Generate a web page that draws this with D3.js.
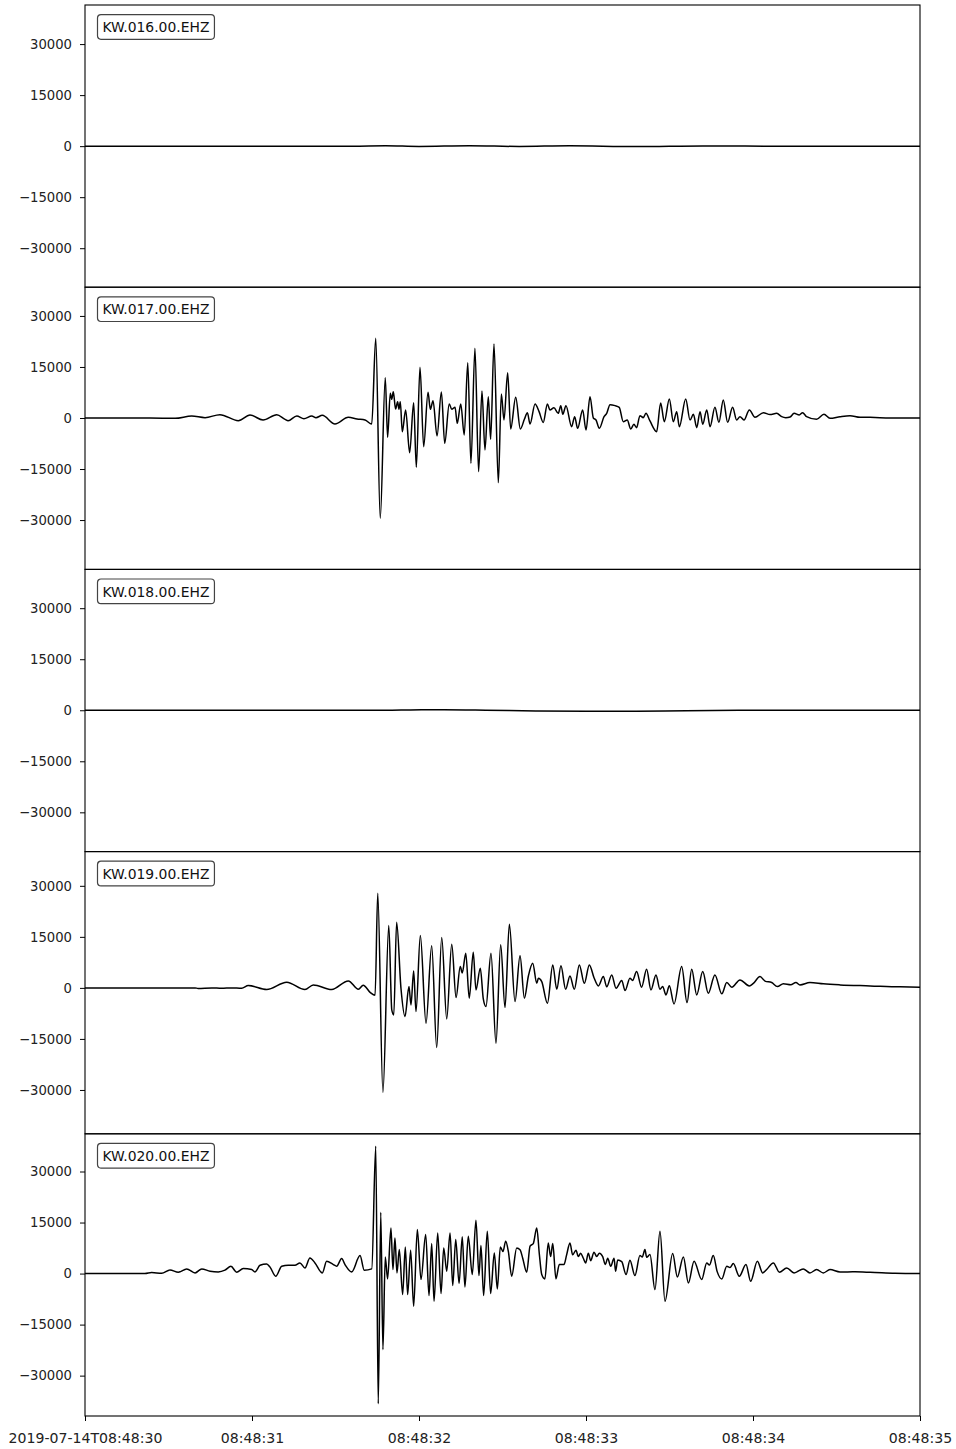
<!DOCTYPE html>
<html>
<head>
<meta charset="utf-8">
<script src="https://cdn.jsdelivr.net/npm/d3@7"></script>
<style>
  html, body { margin: 0; padding: 0; background: #fff; }
  svg { display: block; font-family: "DejaVu Sans", sans-serif; }
</style>
</head>
<body>
<svg id="chart" width="956" height="1449"></svg>
<script>
// Station channel ids, one panel each (top to bottom)
const stations = ["KW.016.00.EHZ", "KW.017.00.EHZ", "KW.018.00.EHZ", "KW.019.00.EHZ", "KW.020.00.EHZ"];
const startTime = "2019-07-14T08:48:30Z";
const durationSec = 5;
const xTickSeconds = [0, 1, 2, 3, 4, 5];
const yTickValues = [-30000, -15000, 0, 15000, 30000];

// Waveforms as [seconds after start, counts] at the turning points of each trace
const kw016 = [[0,0],[1.6,0],[1.8,120],[2.0,-80],[2.3,150],[2.6,-100],[2.9,120],[3.3,-120],[3.7,80],[4.2,-40],[5,0]];

const kw017 = [[0,0],[0.389,0],[0.540,-100],[0.639,590],[0.719,100],[0.808,980],[0.918,-790],[0.988,880],[1.066,-590],[1.148,980],[1.198,-390],[1.216,-800],[1.268,590],[1.311,-200],[1.358,590],[1.383,100],[1.421,780],[1.497,-1760],[1.577,200],[1.629,-300],[1.677,-600],[1.717,-1760],[1.741,23440],[1.768,-29500],[1.798,11850],[1.812,-5680],[1.828,7260],[1.837,5500],[1.846,7740],[1.860,2650],[1.872,4800],[1.880,2550],[1.888,4800],[1.900,-4020],[1.920,2350],[1.944,-10200],[1.968,4510],[1.984,-14500],[2.006,14900],[2.028,-8430],[2.054,7550],[2.068,2550],[2.084,5100],[2.108,-5290],[2.134,7650],[2.154,-7450],[2.181,4120],[2.196,2550],[2.216,3140],[2.229,-1570],[2.250,4120],[2.271,-5000],[2.292,16270],[2.311,-13340],[2.335,20490],[2.357,-15780],[2.377,7940],[2.395,-9410],[2.415,6270],[2.429,-6280],[2.449,21760],[2.475,-19020],[2.493,7060],[2.509,-590],[2.531,13330],[2.549,-3240],[2.579,6080],[2.607,-3240],[2.631,-390],[2.649,1570],[2.665,-1760],[2.695,4120],[2.719,1860],[2.744,-1300],[2.769,4100],[2.784,2350],[2.808,3000],[2.834,1370],[2.849,3630],[2.861,1080],[2.880,3630],[2.914,-2550],[2.932,390],[2.950,-3040],[2.980,2350],[3.000,-3530],[3.024,6270],[3.044,0],[3.060,-590],[3.080,-3040],[3.108,390],[3.124,1370],[3.144,3920],[3.174,3630],[3.199,3140],[3.223,-1080],[3.247,-590],[3.268,-3240],[3.287,-1860],[3.303,-2840],[3.323,690],[3.343,100],[3.359,1370],[3.383,-880],[3.423,-4020],[3.447,4410],[3.469,-1080],[3.499,5590],[3.523,-1080],[3.543,1860],[3.559,-2550],[3.597,5590],[3.623,-590],[3.643,1080],[3.663,-2840],[3.683,1860],[3.699,-1860],[3.723,2350],[3.743,-2550],[3.772,3140],[3.796,-1270],[3.822,5290],[3.848,-1270],[3.878,3140],[3.902,-590],[3.922,390],[3.946,-590],[3.978,2350],[4.012,200],[4.062,1570],[4.102,1000],[4.142,1370],[4.172,390],[4.196,100],[4.222,300],[4.246,1370],[4.277,900],[4.297,1570],[4.321,390],[4.381,-390],[4.425,1080],[4.461,-100],[4.521,390],[4.581,690],[4.641,200],[4.701,200],[4.820,0],[5.000,0]];

const kw018 = [[0,0],[1.8,0],[1.95,100],[2.15,180],[2.4,40],[2.7,-200],[3.0,-320],[3.3,-280],[3.6,-120],[4.0,0],[5,0]];

const kw019 = [[0,0],[0.659,0],[0.677,-150],[0.759,0],[0.818,-100],[0.878,0],[0.938,-100],[0.978,690],[1.088,-490],[1.208,1670],[1.317,-490],[1.367,880],[1.477,-490],[1.577,2060],[1.637,-400],[1.666,800],[1.707,-1300],[1.737,-2200],[1.753,27850],[1.784,-30680],[1.819,18330],[1.837,-6470],[1.849,-7940],[1.866,19310],[1.892,-100],[1.916,-8430],[1.940,390],[1.952,-5000],[1.968,5000],[1.982,-6960],[2.008,15390],[2.042,-10390],[2.076,12350],[2.106,-17550],[2.136,14800],[2.166,-9120],[2.196,12840],[2.222,-2840],[2.247,6270],[2.259,4400],[2.280,10200],[2.301,-3040],[2.325,10490],[2.341,-590],[2.367,5780],[2.385,-3240],[2.401,-5490],[2.431,10200],[2.461,-16270],[2.489,12650],[2.515,-5780],[2.541,18720],[2.575,-4020],[2.605,9410],[2.631,-3040],[2.655,3500],[2.681,7260],[2.705,1370],[2.715,2840],[2.735,1860],[2.769,-4510],[2.801,6760],[2.825,-390],[2.850,6470],[2.878,-390],[2.904,3530],[2.930,-390],[2.960,6760],[2.990,1370],[3.020,6760],[3.048,3000],[3.074,590],[3.104,3330],[3.124,300],[3.154,3820],[3.180,-100],[3.214,2160],[3.234,-780],[3.263,2840],[3.279,2200],[3.303,4800],[3.333,200],[3.363,5490],[3.389,-590],[3.419,3820],[3.443,-390],[3.459,400],[3.479,-2060],[3.499,600],[3.527,-4710],[3.573,6270],[3.605,-4310],[3.633,5490],[3.663,-2060],[3.699,4800],[3.732,-1570],[3.772,3820],[3.813,-1760],[3.843,1570],[3.873,200],[3.922,2350],[3.978,590],[4.002,1300],[4.042,3330],[4.072,2000],[4.112,1570],[4.146,390],[4.182,1200],[4.226,900],[4.257,1570],[4.281,880],[4.341,1570],[4.421,1180],[4.521,880],[4.701,590],[4.880,300],[5.000,200]];

const kw020 = [[0,0],[0.359,0],[0.399,300],[0.459,100],[0.509,1080],[0.559,390],[0.609,1370],[0.659,200],[0.699,1370],[0.749,700],[0.798,490],[0.838,1000],[0.874,2160],[0.908,390],[0.948,1470],[0.998,1180],[1.018,490],[1.048,2450],[1.088,2840],[1.108,1900],[1.142,-780],[1.178,2160],[1.217,2450],[1.257,2450],[1.287,3140],[1.317,1670],[1.347,4610],[1.377,3140],[1.421,200],[1.447,3630],[1.487,2650],[1.507,2160],[1.537,4410],[1.557,2650],[1.597,490],[1.647,5290],[1.672,1000],[1.717,1370],[1.741,37450],[1.756,-38230],[1.771,18040],[1.784,-22350],[1.798,4900],[1.812,-1570],[1.832,13430],[1.844,1180],[1.856,10490],[1.868,200],[1.882,7060],[1.902,-6180],[1.918,7840],[1.932,-6180],[1.950,6860],[1.968,-9610],[1.990,12940],[2.012,-1760],[2.040,11470],[2.060,-6470],[2.076,8820],[2.090,-8140],[2.112,11960],[2.132,-5880],[2.148,7550],[2.166,690],[2.186,11960],[2.202,-3530],[2.220,10000],[2.240,-2940],[2.259,10790],[2.275,-3920],[2.295,10980],[2.319,-290],[2.341,15690],[2.359,-590],[2.371,8240],[2.387,-6470],[2.409,12450],[2.429,-5880],[2.451,6080],[2.469,-4510],[2.487,7840],[2.503,6500],[2.519,9510],[2.535,6500],[2.555,-780],[2.585,7550],[2.605,7000],[2.621,4500],[2.645,390],[2.665,8040],[2.685,8900],[2.705,13430],[2.721,5500],[2.735,-290],[2.754,-1570],[2.774,9020],[2.788,5000],[2.801,8820],[2.820,-1570],[2.840,2650],[2.868,2650],[2.884,5500],[2.904,9020],[2.920,5500],[2.940,6860],[2.954,5000],[2.968,6000],[2.984,4500],[2.998,3140],[3.014,6000],[3.028,3800],[3.048,6270],[3.064,5000],[3.080,6000],[3.100,5000],[3.116,2650],[3.130,4500],[3.148,2160],[3.168,4500],[3.177,690],[3.190,4000],[3.214,3500],[3.240,-290],[3.263,3920],[3.293,-590],[3.323,5290],[3.337,4900],[3.353,7060],[3.363,4800],[3.383,5590],[3.413,-4710],[3.443,12450],[3.473,-8140],[3.519,5880],[3.547,-980],[3.583,4900],[3.613,-2750],[3.647,3630],[3.693,-1760],[3.723,3140],[3.739,2500],[3.762,5290],[3.786,500],[3.813,-1570],[3.843,2160],[3.862,1800],[3.882,2940],[3.918,-780],[3.958,2650],[3.986,-2250],[4.026,3630],[4.058,200],[4.082,1200],[4.122,3140],[4.158,390],[4.202,1670],[4.246,200],[4.301,1370],[4.341,200],[4.381,1180],[4.421,200],[4.461,1180],[4.521,490],[4.611,500],[4.701,390],[4.850,100],[5.000,0]];

const traces = [kw016, kw017, kw018, kw019, kw020];

// ---- layout ----
const plotLeft = 85, plotRight = 920, plotTop = 5, plotBottom = 1416;
const panelH = (plotBottom - plotTop) / stations.length;
const fontTick = 13.2;
const fontLabel = 13.9;
const fontTime = 14.1;

const svg = d3.select("#chart");
const t0 = new Date(startTime);
const toDate = s => new Date(t0.getTime() + s * 1000);

const x = d3.scaleUtc()
  .domain([t0, toDate(durationSec)])
  .range([plotLeft, plotRight]);

// Shared amplitude scale: every panel spans the same number of counts,
// centred on the middle of its own trace's range.
const halfSpan = d3.max(traces, tr => (d3.max(tr, d => d[1]) - d3.min(tr, d => d[1])) / 2) * 1.096;

const fmtY = v => v < 0 ? "\u2212" + Math.abs(v) : String(v);

traces.forEach((tr, i) => {
  const top = plotTop + i * panelH;
  const bottom = top + panelH;
  const mid = (d3.max(tr, d => d[1]) + d3.min(tr, d => d[1])) / 2;
  const y = d3.scaleLinear()
    .domain([mid - halfSpan, mid + halfSpan])
    .range([bottom, top]);

  const g = svg.append("g");

  g.append("clipPath").attr("id", "clip" + i)
    .append("rect")
    .attr("x", plotLeft).attr("y", top)
    .attr("width", plotRight - plotLeft).attr("height", panelH);

  const line = d3.line()
    .x(d => x(toDate(d[0])))
    .y(d => y(d[1]))
    .curve(d3.curveMonotoneX);

  g.append("path")
    .datum(tr)
    .attr("clip-path", `url(#clip${i})`)
    .attr("fill", "none")
    .attr("stroke", "#000")
    .attr("stroke-width", 1.5)
    .attr("stroke-linejoin", "round")
    .attr("d", line);

  // y axis
  const ya = g.append("g")
    .attr("transform", `translate(${plotLeft},0)`)
    .call(d3.axisLeft(y).tickValues(yTickValues).tickSize(5).tickPadding(8).tickFormat(fmtY));
  ya.select(".domain").remove();
  ya.selectAll("line").attr("stroke", "#000").attr("stroke-width", 1);
  ya.selectAll("text").attr("fill", "#222").attr("font-size", fontTick)
    .attr("font-family", "DejaVu Sans, sans-serif");

  // frame
  g.append("rect")
    .attr("x", plotLeft).attr("y", top)
    .attr("width", plotRight - plotLeft).attr("height", panelH)
    .attr("fill", "none").attr("stroke", "#000").attr("stroke-width", 1.1);

  // station label box
  const lbl = g.append("g").attr("transform", `translate(${plotLeft + 12.5},${top + 9.6})`);
  const box = lbl.append("rect")
    .attr("fill", "#fff").attr("stroke", "#444").attr("stroke-width", 1.2)
    .attr("rx", 3.5).attr("ry", 3.5);
  const txt = lbl.append("text")
    .attr("x", 5).attr("y", 17.6)
    .attr("font-size", fontLabel).attr("fill", "#111")
    .text(stations[i]);
  const bb = txt.node().getBBox();
  box.attr("x", 0).attr("y", 0).attr("width", bb.width + 10).attr("height", 24.7);
});

// shared time axis at the bottom
const fmtFirst = d3.utcFormat("%Y-%m-%dT%H:%M:%S");
const fmtRest = d3.utcFormat("%H:%M:%S");
const xa = svg.append("g")
  .attr("transform", `translate(0,${plotBottom})`)
  .call(d3.axisBottom(x)
    .tickValues(xTickSeconds.map(toDate))
    .tickSize(5)
    .tickFormat((d, i) => i === 0 ? fmtFirst(d) : fmtRest(d)));
xa.select(".domain").remove();
xa.selectAll("line").attr("stroke", "#000");
xa.selectAll("text").attr("fill", "#222").attr("font-size", fontTime)
  .attr("font-family", "DejaVu Sans, sans-serif")
  .attr("dy", null).attr("y", 27);
</script>
</body>
</html>
